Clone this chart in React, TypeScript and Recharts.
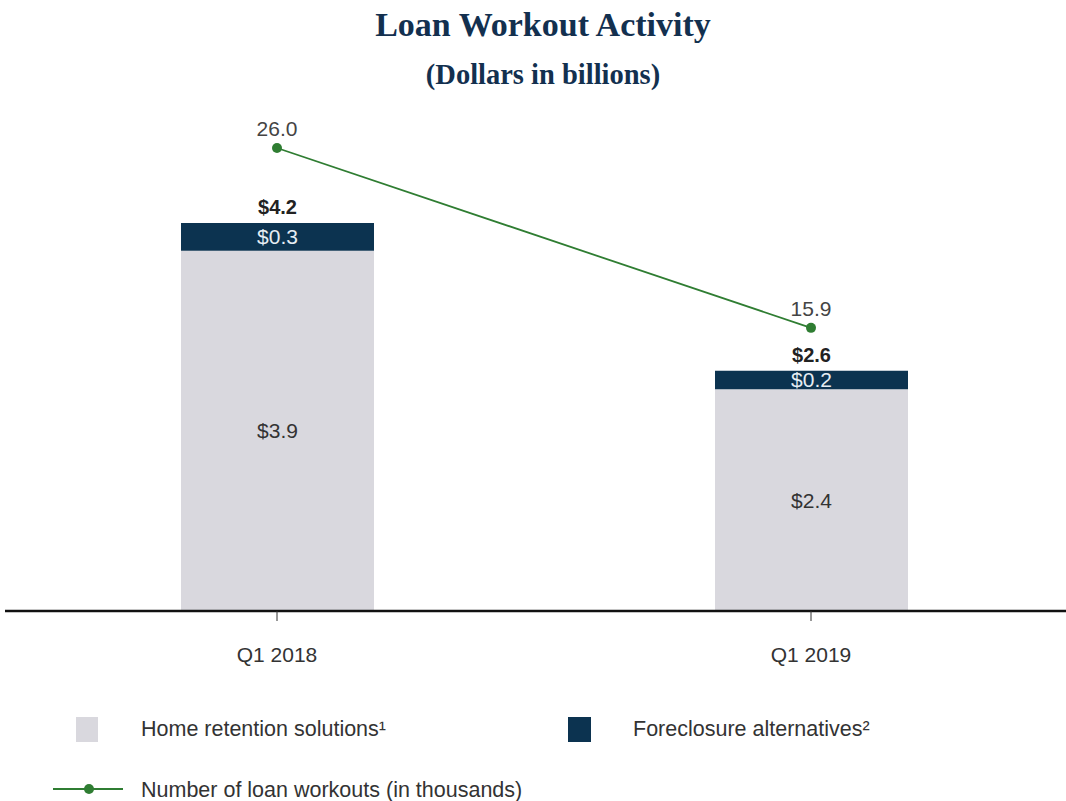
import { ComposedChart, Bar, Line, XAxis, YAxis, LabelList } from "recharts"

const quarters = ["Q1 2018", "Q1 2019"]
const homeRetention = [3.9, 2.4]
const foreclosureAlt = [0.3, 0.2]
const totals = [4.2, 2.6]
const loanWorkouts = [26.0, 15.9]

const data = quarters.map((q, i) => ({
  name: q,
  home: homeRetention[i],
  foreclosure: foreclosureAlt[i],
  total: totals[i],
  workouts: loanWorkouts[i],
}))

const GRAY = "#d9d8de"
const NAVY = "#0c3350"
const GREEN = "#2f7d32"
const FONT = "'Liberation Sans', Arial, sans-serif"

const money = (v: any) => `$${Number(v).toFixed(1)}`

export default function App() {
  return (
    <div
      style={{
        position: "absolute",
        left: 0,
        top: 0,
        width: 1066,
        height: 801,
        overflow: "hidden",
        background: "#fff",
        fontFamily: FONT,
      }}
    >
      <div
        style={{
          position: "absolute",
          left: 0,
          width: 1086,
          top: 4,
          textAlign: "center",
          fontFamily: "'Liberation Serif', 'Times New Roman', serif",
          fontWeight: "bold",
          color: "#13304f",
        }}
      >
        <div style={{ fontSize: 34, lineHeight: "42px" }}>Loan Workout Activity</div>
        <div style={{ fontSize: 28.5, lineHeight: "34px", marginTop: 12 }}>(Dollars in billions)</div>
      </div>

      <div style={{ position: "absolute", left: 0, top: 0 }}>
        <ComposedChart
          width={1090}
          height={690}
          data={data}
          margin={{ top: 88, right: 12, bottom: 0, left: 5 }}
        >
          <XAxis
            dataKey="name"
            padding={{ left: 5, right: 0 }}
            axisLine={{ stroke: "#111", strokeWidth: 2.5 }}
            tickLine={{ stroke: "#333" }}
            tickSize={10}
            tickMargin={26}
            height={79}
            tick={{ fill: "#333", fontSize: 21, fontFamily: FONT }}
          />
          <YAxis yAxisId="bar" hide domain={[0, 5.66]} />
          <YAxis yAxisId="line" hide domain={[0, 29.37]} />
          <Bar dataKey="home" stackId="a" yAxisId="bar" fill={GRAY} barSize={193} isAnimationActive={false}>
            <LabelList dataKey="home" position="center" fill="#333" fontSize={21} fontFamily={FONT} formatter={money} />
          </Bar>
          <Bar dataKey="foreclosure" stackId="a" yAxisId="bar" fill={NAVY} barSize={193} isAnimationActive={false}>
            <LabelList dataKey="foreclosure" position="center" fill="#e6edf3" fontSize={21} fontFamily={FONT} formatter={money} />
            <LabelList
              dataKey="total"
              position="top"
              offset={9}
              fill="#222"
              fontSize={20}
              fontWeight="bold"
              fontFamily={FONT}
              formatter={money}
            />
          </Bar>
          <Line
            dataKey="workouts"
            yAxisId="line"
            type="linear"
            stroke={GREEN}
            strokeWidth={1.8}
            dot={{ r: 5, fill: GREEN, stroke: GREEN, strokeWidth: 0 }}
            isAnimationActive={false}
          >
            <LabelList
              dataKey="workouts"
              position="top"
              offset={12}
              fill="#444"
              fontSize={21}
              fontFamily={FONT}
              formatter={(v: any) => Number(v).toFixed(1)}
            />
          </Line>
        </ComposedChart>
      </div>

      <div style={{ position: "absolute", left: 0, top: 0, fontSize: 21.5, color: "#333" }}>
        <div style={{ position: "absolute", left: 76, top: 717, width: 22, height: 25, background: GRAY }} />
        <div style={{ position: "absolute", left: 141, top: 716, whiteSpace: "nowrap", lineHeight: "26px" }}>
          Home retention solutions¹
        </div>
        <div style={{ position: "absolute", left: 568, top: 717, width: 23, height: 25, background: NAVY }} />
        <div style={{ position: "absolute", left: 633, top: 716, whiteSpace: "nowrap", lineHeight: "26px" }}>
          Foreclosure alternatives²
        </div>
        <svg style={{ position: "absolute", left: 50, top: 779 }} width={76} height={20}>
          <line x1={3} y1={10} x2={73} y2={10} stroke={GREEN} strokeWidth={2.2} />
          <circle cx={39} cy={10} r={5} fill={GREEN} />
        </svg>
        <div style={{ position: "absolute", left: 141, top: 777, whiteSpace: "nowrap", lineHeight: "26px" }}>
          Number of loan workouts (in thousands)
        </div>
      </div>
    </div>
  )
}
